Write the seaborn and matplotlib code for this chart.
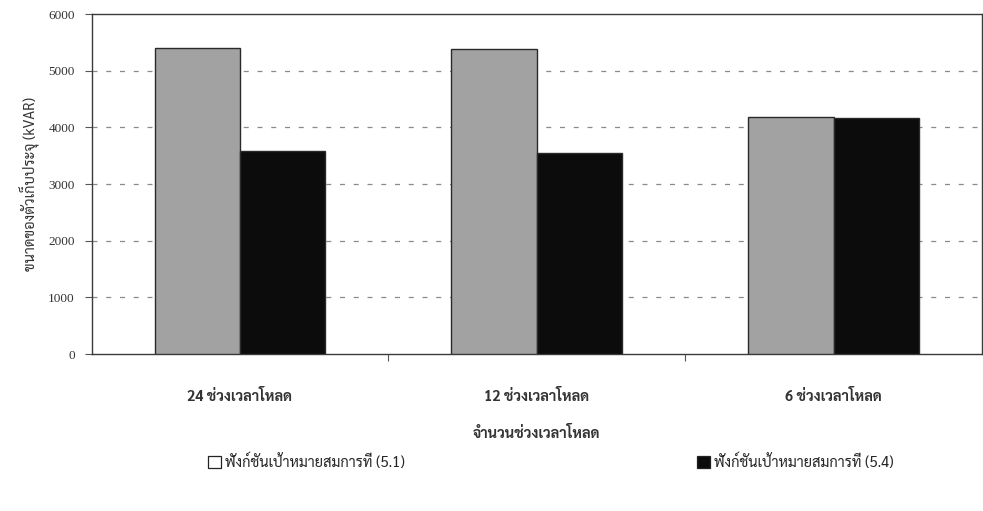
import matplotlib
matplotlib.use("Agg")
import matplotlib.pyplot as plt
from matplotlib import font_manager
from matplotlib.patches import Patch
import pandas as pd
import seaborn as sns

# Data: capacitor size (kVAR) for each number of load periods
categories = ["24 ช่วงเวลาโหลด", "12 ช่วงเวลาโหลด", "6 ช่วงเวลาโหลด"]
series_names = ["ฟังก์ชันเป้าหมายสมการที่ (5.1)", "ฟังก์ชันเป้าหมายสมการที่ (5.4)"]
values_eq51 = [5400, 5380, 4180]
values_eq54 = [3580, 3550, 4170]
y_ticks = [0, 1000, 2000, 3000, 4000, 5000, 6000]
x_title = "จำนวนช่วงเวลาโหลด"
y_title = "ขนาดของตัวเก็บประจุ (kVAR)"


def first_font(names):
    installed = {f.name for f in font_manager.fontManager.ttflist}
    for n in names:
        if n in installed:
            return n
    return "DejaVu Sans"


thai_font = first_font(["Sarabun", "Noto Serif Thai", "Taviraj", "Noto Sans Thai Looped", "Noto Sans Thai"])
num_font = first_font(["Liberation Serif", "DejaVu Serif"])
sans_font = first_font(["Liberation Sans", "DejaVu Sans"])

df = pd.DataFrame({
    "period": categories * 2,
    "series": [series_names[0]] * 3 + [series_names[1]] * 3,
    "kvar": values_eq51 + values_eq54,
})

sns.set_theme(style="white")
plt.rcParams["font.family"] = [thai_font, num_font]

fig = plt.figure(figsize=(9.83, 5.11), dpi=100)
ax = fig.add_axes([0.0931, 0.3072, 0.9059, 0.6654])

gray_fill = "#a2a2a2"
black_fill = "#0c0c0c"
sns.barplot(
    data=df, x="period", y="kvar", hue="series", order=categories,
    hue_order=series_names, palette=[gray_fill, black_fill],
    width=0.575, gap=0, edgecolor="#2a2a2a", linewidth=1.0,
    ax=ax, legend=False, zorder=3,
)

ax.set_xlim(-0.5, 2.5)
ax.set_ylim(0, 6000)
ax.set_yticks(y_ticks)
ax.set_yticklabels([str(v) for v in y_ticks], family=num_font, fontsize=9.5, color="#333333")

# dashed horizontal grid behind the bars
for v in y_ticks[1:-1]:
    ax.axhline(v, color="#8a8a8a", linestyle=(0, (4, 7)), linewidth=0.9, zorder=1)

# category labels with boundary ticks between groups (Excel style)
ax.set_xticks(range(len(categories)))
ax.set_xticklabels(categories, fontsize=10.5, fontweight="bold", color="#333333", family=[thai_font, num_font])
ax.tick_params(axis="x", which="major", length=0, pad=25)
ax.set_xticks([0.5, 1.5], minor=True)
ax.tick_params(axis="x", which="minor", length=5, width=0.8, color="#555555", direction="out", bottom=True)
ax.tick_params(axis="y", length=5, width=0.8, color="#555555", direction="out", left=True, pad=7)

ax.set_xlabel(x_title, fontsize=10.5, fontweight="bold", color="#333333", labelpad=16)
ax.set_ylabel(y_title, fontsize=10.5, color="#333333", labelpad=6)

for s in ax.spines.values():
    s.set_visible(True)
    s.set_color("#3a3a3a")
    s.set_linewidth(1.0)

handles = [
    Patch(facecolor="white", edgecolor="#222222", linewidth=0.9, label=series_names[0]),
    Patch(facecolor=black_fill, edgecolor="#222222", linewidth=0.9, label=series_names[1]),
]
fig.legend(
    handles=handles, loc="center", bbox_to_anchor=(0.5605, 0.096), ncol=2,
    frameon=False, handlelength=0.9, handleheight=0.9,
    handletextpad=0.3, columnspacing=20,
    prop={"family": [thai_font, sans_font], "size": 10.5},
)

fig.savefig("out.png", dpi=100)
